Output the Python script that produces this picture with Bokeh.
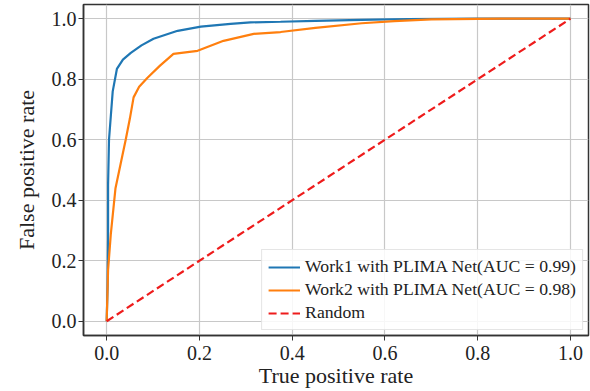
from bokeh.plotting import figure
from bokeh.models import Legend, LegendItem, FixedTicker, NumeralTickFormatter, Range1d
from bokeh.embed import file_html
from bokeh.resources import INLINE

work1_x = [0.0, 0.002, 0.003, 0.003, 0.005, 0.009, 0.013, 0.022, 0.035, 0.052, 0.075, 0.101, 0.153, 0.203, 0.267, 0.31, 0.375, 0.45, 0.55, 0.65, 0.8, 1.0]
work1_y = [0.0, 0.12, 0.27, 0.45, 0.6, 0.68, 0.76, 0.834, 0.865, 0.887, 0.912, 0.934, 0.96, 0.974, 0.983, 0.988, 0.99, 0.993, 0.996, 0.999, 1.0, 1.0]

work2_x = [0.0, 0.003, 0.009, 0.019, 0.03, 0.041, 0.05, 0.058, 0.07, 0.088, 0.115, 0.144, 0.196, 0.252, 0.317, 0.375, 0.45, 0.55, 0.62, 0.7, 0.85, 1.0]
work2_y = [0.0, 0.17, 0.29, 0.44, 0.52, 0.6, 0.67, 0.74, 0.775, 0.805, 0.845, 0.884, 0.894, 0.927, 0.95, 0.956, 0.97, 0.985, 0.992, 0.998, 1.0, 1.0]

random_x = [0.0, 1.0]
random_y = [0.0, 1.0]

labels = ["Work1 with PLIMA Net(AUC = 0.99)", "Work2 with PLIMA Net(AUC = 0.98)", "Random"]
ticks = [0.0, 0.2, 0.4, 0.6, 0.8, 1.0]

FONT = "Liberation Serif"

p = figure(width=590, height=391, output_backend="svg", toolbar_location=None,
           x_range=Range1d(-0.05, 1.039), y_range=Range1d(-0.047, 1.047),
           min_border_left=83, min_border_right=2, min_border_top=4, min_border_bottom=56)

p.outline_line_color = "#333333"
p.outline_line_width = 1.5
p.outline_line_alpha = 1.0

for ax in (p.xaxis[0], p.yaxis[0]):
    ax.ticker = FixedTicker(ticks=ticks)
    ax.formatter = NumeralTickFormatter(format="0.0")
    ax.major_label_text_font = FONT
    ax.major_label_text_font_size = "20px"
    ax.major_label_text_color = "#222222"
    ax.axis_label_text_font = FONT
    ax.axis_label_text_font_size = "22px"
    ax.axis_label_text_font_style = "normal"
    ax.axis_label_text_color = "#222222"
    ax.minor_tick_line_color = None
    ax.major_tick_in = 0
    ax.major_tick_out = 5
    ax.major_tick_line_color = "#333333"
    ax.axis_line_color = "#333333"
    ax.axis_line_width = 1.5

p.xaxis.axis_label = "True positive rate"
p.yaxis.axis_label = "False positive rate"
p.xaxis.axis_label_standoff = 0
p.yaxis.axis_label_standoff = 10
p.xaxis.major_label_standoff = 5
p.yaxis.major_label_standoff = 2

p.xgrid.grid_line_color = "#c8c8c8"
p.ygrid.grid_line_color = "#c8c8c8"
p.xgrid.grid_line_width = 1.2
p.ygrid.grid_line_width = 1.2

r1 = p.line(work1_x, work1_y, line_color="#1f77b4", line_width=2.2)
r2 = p.line(work2_x, work2_y, line_color="#ff7f0e", line_width=2.2)
r3 = p.line(random_x, random_y, line_color="#ee1c1c", line_width=2.2, line_dash="8 4")

legend = Legend(items=[LegendItem(label=labels[0], renderers=[r1]),
                       LegendItem(label=labels[1], renderers=[r2]),
                       LegendItem(label=labels[2], renderers=[r3])],
                location="bottom_right")
legend.label_text_font = FONT
legend.label_text_font_size = "17.7px"
legend.label_text_color = "#222222"
legend.border_line_color = "#cccccc"
legend.border_line_width = 1
legend.background_fill_alpha = 0.85
legend.glyph_width = 32
legend.glyph_height = 20
legend.spacing = 2
legend.padding = 6
legend.margin = 5
legend.label_standoff = 5
legend.label_height = 20
p.add_layout(legend)

open("out.html", "w").write(file_html(p, INLINE))
